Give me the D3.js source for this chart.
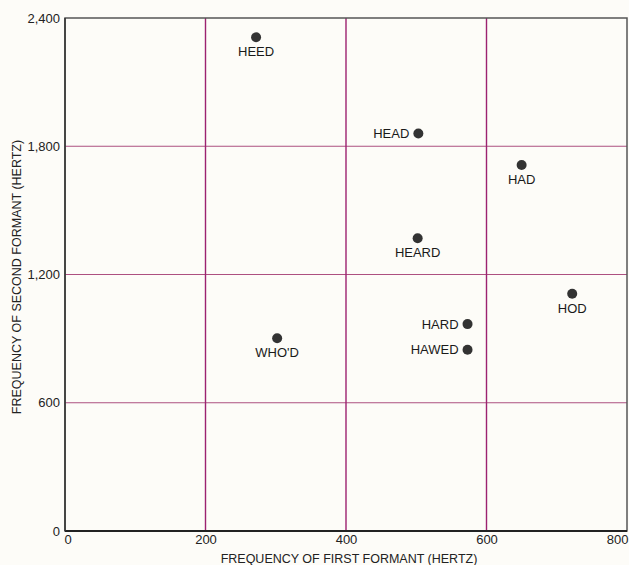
<!DOCTYPE html>
<html>
<head>
<meta charset="utf-8">
<script src="https://cdn.jsdelivr.net/npm/d3@7"></script>
<style>
  body { margin: 0; background: #fdfcf8; }
  svg { display: block; font-family: "Liberation Sans", Arial, sans-serif; }
</style>
</head>
<body>
<svg id="chart" width="629" height="565"></svg>
<script>
// vowel formant data
const words = ["HEED", "HEAD", "HAD", "HEARD", "HOD", "HARD", "HAWED", "WHO'D"];
const f1 = [272, 503, 650, 502, 722, 573, 573, 302];
const f2 = [2310, 1860, 1712, 1370, 1110, 968, 848, 902];
// where the label sits relative to the dot
const labelSide = ["below", "left", "below", "below", "below", "left", "left", "below"];

const xTicks = [0, 200, 400, 600, 800];
const yTicks = [0, 600, 1200, 1800, 2400];

const svg = d3.select("#chart");
const plotLeft = 65, plotRight = 627, plotTop = 18, plotBottom = 531;

const x = d3.scaleLinear().domain([0, 800]).range([plotLeft, plotRight]);
const y = d3.scaleLinear().domain([0, 2400]).range([plotBottom, plotTop]);

const gridColor = "#9c2270";

// grid lines
svg.append("g")
    .selectAll("line")
    .data(yTicks.slice(1, -1))
    .enter().append("line")
    .attr("x1", plotLeft).attr("x2", plotRight)
    .attr("y1", d => y(d)).attr("y2", d => y(d))
    .attr("stroke", "#ad5080")
    .attr("stroke-width", 1.2);

svg.append("g")
    .selectAll("line")
    .data(xTicks.slice(1, -1))
    .enter().append("line")
    .attr("x1", d => x(d)).attr("x2", d => x(d))
    .attr("y1", plotTop).attr("y2", plotBottom)
    .attr("stroke", gridColor)
    .attr("stroke-width", 1.4);

// frame
svg.append("path")
    .attr("d", `M${plotLeft},${plotTop}H${plotRight}V${plotBottom}H${plotLeft}Z`)
    .attr("fill", "none")
    .attr("stroke", "#555")
    .attr("stroke-width", 1.5);
svg.append("line")
    .attr("x1", plotLeft).attr("x2", plotRight)
    .attr("y1", plotBottom).attr("y2", plotBottom)
    .attr("stroke", "#222").attr("stroke-width", 2);
svg.append("line")
    .attr("x1", plotLeft).attr("x2", plotLeft)
    .attr("y1", plotTop).attr("y2", plotBottom)
    .attr("stroke", "#333").attr("stroke-width", 1.5);

// axes (labels only)
const last = xTicks.length - 1;
const xAxis = svg.append("g")
    .attr("transform", `translate(0,${plotBottom})`)
    .call(d3.axisBottom(x).tickValues(xTicks).tickSize(0).tickPadding(4).tickFormat(d3.format(",")));
xAxis.select(".domain").remove();
xAxis.selectAll("text")
    .attr("font-size", 13).attr("fill", "#222")
    .attr("font-family", "Liberation Sans, Arial, sans-serif")
    .attr("text-anchor", (d, i) => i == 0 ? "start" : (i == last ? "end" : "middle"))
    .attr("dx", (d, i) => i == 0 ? -1 : (i == last ? 1 : 0));

const yAxis = svg.append("g")
    .attr("transform", `translate(${plotLeft},0)`)
    .call(d3.axisLeft(y).tickValues(yTicks).tickSize(0).tickPadding(5).tickFormat(d3.format(",")));
yAxis.select(".domain").remove();
yAxis.selectAll("text")
    .attr("font-size", 13).attr("fill", "#222")
    .attr("font-family", "Liberation Sans, Arial, sans-serif");

// axis titles
svg.append("text")
    .attr("x", 349).attr("y", 563)
    .attr("text-anchor", "middle")
    .attr("font-size", 12.5).attr("fill", "#222")
    .text("FREQUENCY OF FIRST FORMANT (HERTZ)");

svg.append("text")
    .attr("transform", "translate(21,277) rotate(-90)")
    .attr("text-anchor", "middle")
    .attr("font-size", 12.5).attr("fill", "#222")
    .text("FREQUENCY OF SECOND FORMANT (HERTZ)");

// points
const pts = words.map((w, i) => ({word: w, f1: f1[i], f2: f2[i], side: labelSide[i]}));

svg.append("g")
    .selectAll("circle")
    .data(pts)
    .enter().append("circle")
    .attr("cx", d => x(d.f1))
    .attr("cy", d => y(d.f2))
    .attr("r", 5)
    .attr("fill", "#333");

svg.append("g")
    .selectAll("text")
    .data(pts)
    .enter().append("text")
    .attr("x", d => d.side == "left" ? x(d.f1) - 9 : x(d.f1))
    .attr("y", d => d.side == "left" ? y(d.f2) + 4.5 : y(d.f2) + 19)
    .attr("text-anchor", d => d.side == "left" ? "end" : "middle")
    .attr("font-size", 13)
    .attr("fill", "#1a1a1a")
    .text(d => d.word);
</script>
</body>
</html>
